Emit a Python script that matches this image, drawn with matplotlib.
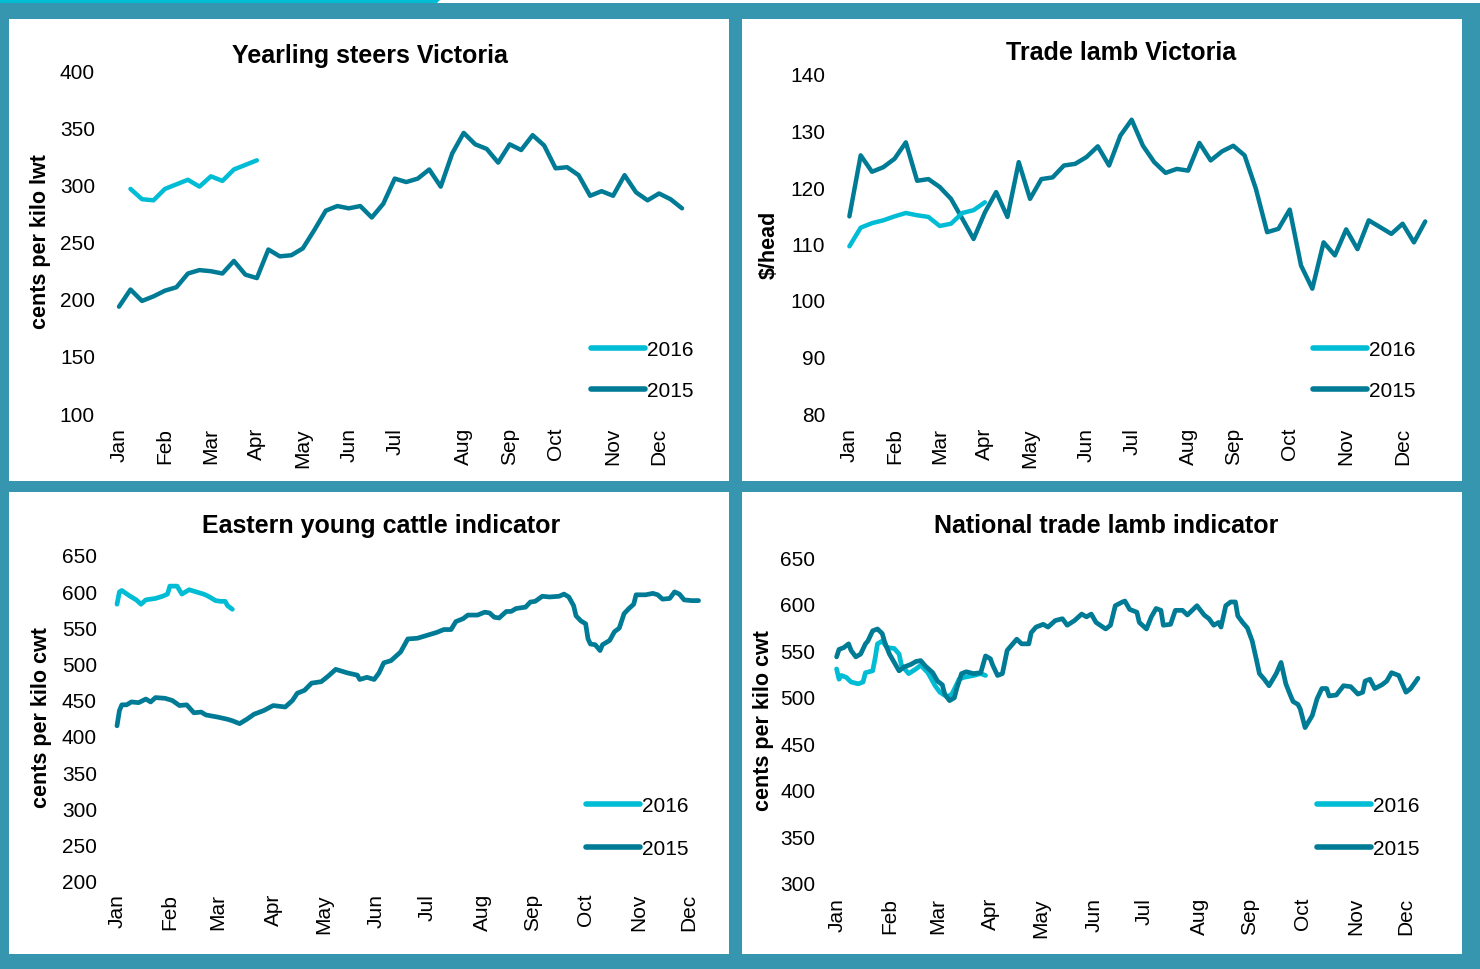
"""Four price panels (2015 vs 2016): steers, trade lamb, EYCI, national trade lamb."""

import matplotlib

matplotlib.use("Agg")
import matplotlib.pyplot as plt
from matplotlib.patches import Polygon, Rectangle

plt.rcParams["font.family"] = ["Liberation Sans", "DejaVu Sans"]

W, H = 1480, 970
BG = "#3796af"
C16 = "#00bcd4"
C15 = "#007b96"

MONTHS = ["Jan", "Feb", "Mar", "Apr", "May", "Jun",
          "Jul", "Aug", "Sep", "Oct", "Nov", "Dec"]

# --- Yearling steers Victoria (weekly, c/kg lwt) ---
steers_weeks_2015 = list(range(50))
steers_2015 = [193, 208, 198, 202, 207, 210, 222, 225, 224, 222,
               233, 221, 218, 243, 237, 238, 244, 260, 277, 281,
               279, 281, 271, 283, 305, 302, 305, 313, 298, 327,
               345, 335, 331, 319, 335, 330, 343, 334, 314, 315,
               308, 290, 294, 290, 308, 293, 286, 292, 287, 279]
steers_weeks_2016 = list(range(1, 13))
steers_2016 = [296, 287, 286, 296, 300, 304, 298, 307, 303, 313, 317, 321]
steers_ticks = [0, 4, 8, 12, 16, 20, 24, 30, 34, 38, 43, 47]
steers_yticks = [100, 150, 200, 250, 300, 350, 400]

# --- Trade lamb Victoria (weekly, $/head) ---
lamb_weeks_2015 = list(range(52))
lamb_2015 = [114.8, 125.6, 122.7, 123.5, 125.0, 127.9, 121.1, 121.4, 120.0, 117.9,
             114.4, 110.8, 115.5, 119.1, 114.7, 124.4, 117.9, 121.4, 121.7, 123.8,
             124.1, 125.3, 127.2, 123.8, 129.1, 131.9, 127.3, 124.4, 122.5, 123.2,
             122.9, 127.8, 124.7, 126.3, 127.3, 125.6, 119.7, 112.0, 112.6, 116.0,
             106.1, 102.0, 110.2, 107.9, 112.5, 109.0, 114.1, 112.9, 111.7, 113.5,
             110.2, 113.9]
lamb_weeks_2016 = list(range(13))
lamb_2016 = [109.5, 112.8, 113.6, 114.1, 114.8, 115.4, 115.0, 114.7, 113.1, 113.5,
             115.4, 115.9, 117.3]
lamb_ticks = [0, 4, 8, 12, 16, 21, 25, 30, 34, 39, 44, 49]
lamb_yticks = [80, 90, 100, 110, 120, 130, 140]

# --- Eastern young cattle indicator (daily, c/kg cwt) ---
eyci_days_2015 = [0, 1, 2, 4, 6, 9, 12, 14, 16, 20, 23, 26, 29, 32, 35, 37, 42, 46, 48,
                  51, 54, 57, 61, 65, 70, 73, 75, 78, 81, 85, 88, 91, 96, 100, 101,
                  104, 107, 109, 111, 114, 118, 121, 125, 129, 133, 136, 139, 141,
                  144, 146, 150, 153, 155, 157, 159, 162, 164, 166, 170, 172, 174,
                  177, 180, 184, 186, 188, 190, 191, 193, 195, 196, 197, 199, 201,
                  202, 205, 207, 209, 211, 213, 215, 216, 220, 223, 225, 227, 230,
                  232, 234, 236, 239, 242]
eyci_2015 = [414, 435, 443, 443, 447, 446, 451, 447, 453, 452, 449, 442, 443, 432, 433,
             429, 426, 423, 421, 417, 423, 430, 435, 442, 440, 449, 459, 463, 473, 475,
             483, 492, 487, 484, 478, 481, 478, 487, 501, 504, 516, 534, 535, 539, 543,
             547, 547, 558, 562, 567, 567, 571, 570, 564, 563, 572, 572, 576, 578, 585,
             586, 593, 592, 593, 596, 592, 580, 566, 559, 555, 534, 527, 526, 518, 526,
             532, 544, 549, 569, 576, 582, 595, 595, 597, 595, 589, 590, 599, 596, 588,
             587, 587]
eyci_days_2016 = [0, 1, 2, 5, 8, 10, 12, 16, 19, 21, 22, 25, 27, 30, 33, 36, 38, 41,
                  43, 45, 46, 48]
eyci_2016 = [582, 599, 601, 594, 588, 582, 588, 590, 593, 596, 607, 607, 596, 602,
             599, 596, 593, 587, 586, 586, 580, 575]
eyci_ticks = [0, 22, 42, 65, 86, 108, 129, 152, 173, 195, 217, 238]
eyci_yticks = [200, 250, 300, 350, 400, 450, 500, 550, 600, 650]

# --- National trade lamb indicator (daily, c/kg cwt) ---
ntli_days_2015 = [0, 1, 3, 5, 6, 8, 10, 12, 13, 15, 17, 19, 20, 22, 24, 26, 28, 31, 33,
                  35, 37, 40, 42, 44, 45, 47, 49, 50, 52, 54, 57, 60, 62, 64, 65, 67,
                  69, 71, 74, 75, 77, 80, 81, 83, 86, 88, 91, 94, 96, 99, 102, 104,
                  106, 108, 112, 114, 116, 119, 120, 122, 125, 126, 129, 131, 133,
                  135, 136, 139, 141, 144, 146, 148, 150, 153, 155, 157, 159, 160,
                  162, 164, 166, 167, 169, 171, 173, 175, 176, 178, 180, 183, 185,
                  187, 189, 190, 192, 193, 195, 198, 200, 202, 204, 205, 208, 211,
                  214, 217, 219, 220, 222, 224, 227, 229, 231, 234, 237, 239, 242]
ntli_2015 = [543, 551, 553, 557, 550, 543, 546, 557, 560, 571, 573, 568, 559, 546, 537,
             528, 532, 535, 538, 539, 533, 526, 517, 513, 503, 496, 499, 509, 525, 527,
             525, 526, 544, 541, 534, 523, 525, 550, 559, 562, 557, 557, 569, 575, 578,
             575, 582, 584, 577, 582, 589, 586, 589, 580, 573, 577, 598, 602, 603, 594,
             591, 580, 573, 586, 595, 593, 577, 578, 593, 593, 588, 593, 598, 588, 584,
             577, 580, 575, 598, 602, 602, 587, 580, 574, 560, 537, 525, 519, 512, 525,
             537, 514, 501, 495, 492, 487, 467, 480, 498, 509, 509, 501, 502, 512, 511,
             503, 505, 517, 519, 509, 513, 517, 526, 523, 505, 509, 520]
ntli_days_2016 = [0, 1, 2, 4, 6, 9, 11, 12, 15, 16, 17, 19, 21, 24, 26, 27, 30, 33, 35,
                  38, 41, 43, 46, 48, 51, 53, 57, 60, 62]
ntli_2016 = [530, 519, 523, 521, 516, 514, 516, 526, 528, 541, 557, 560, 553, 552, 546,
             534, 525, 530, 534, 526, 512, 505, 500, 503, 519, 521, 523, 525, 523]
ntli_ticks = [0, 22, 42, 64, 85, 107, 128, 151, 172, 194, 216, 237]
ntli_yticks = [300, 350, 400, 450, 500, 550, 600, 650]


def fig_rect(left, top, right, bottom):
    """Pixel box (from top-left) -> figure fraction [l, b, w, h]."""
    return [left / W, 1 - bottom / H, (right - left) / W, (bottom - top) / H]


def panel(fig, box, ax_box, xlim, ylim, yticks, xticks, data, title, title_xy,
          ylabel, ylabel_xy, legend_xy, ypad, xpad, lw, legsp, top16=False):
    # white card behind the chart
    card = fig.add_axes(fig_rect(*box))
    card.set_facecolor("white")
    card.set_xticks([])
    card.set_yticks([])
    for s in card.spines.values():
        s.set_visible(False)
    card.set_zorder(0)

    ax = fig.add_axes(fig_rect(*ax_box))
    ax.set_zorder(1)
    ax.patch.set_alpha(0)
    (x15, y15), (x16, y16) = data
    kw = dict(lw=lw, solid_joinstyle="round", solid_capstyle="round")
    l15, = ax.plot(x15, y15, color=C15, label="2015", zorder=3, **kw)
    l16, = ax.plot(x16, y16, color=C16, label="2016", zorder=4 if top16 else 2, **kw)
    ax.set_xlim(*xlim)
    ax.set_ylim(*ylim)
    ax.set_yticks(yticks)
    ax.set_xticks(xticks)
    ax.set_xticklabels(MONTHS, rotation=90, va="top", ha="center")
    ax.tick_params(axis="both", length=0, labelsize=15, colors="black")
    ax.tick_params(axis="y", pad=ypad)
    ax.tick_params(axis="x", pad=xpad)
    for s in ax.spines.values():
        s.set_visible(False)
    fig.text(title_xy[0] / W, 1 - title_xy[1] / H, title, ha="center", va="center",
             fontsize=18, fontweight="bold", zorder=5)
    fig.text(ylabel_xy[0] / W, 1 - ylabel_xy[1] / H, ylabel, ha="center", va="center",
             rotation=90, fontsize=15.5, fontweight="bold", zorder=5)
    leg = ax.legend([l16, l15], ["2016", "2015"], loc="upper left",
                    bbox_to_anchor=(legend_xy[0] / W, 1 - legend_xy[1] / H),
                    bbox_transform=fig.transFigure, frameon=False, fontsize=15,
                    handlelength=2.6, handletextpad=0.08, labelspacing=legsp,
                    borderpad=0, borderaxespad=0)
    for h in leg.get_lines():
        h.set_linewidth(4.0)
        h.set_solid_capstyle("round")
    return ax


def main() -> None:
    fig = plt.figure(figsize=(W / 100, H / 100), dpi=100, facecolor=BG)

    # thin strip along the top edge
    fig.patches.append(Rectangle((0, 1 - 4 / H), 1, 4 / H, transform=fig.transFigure,
                                 facecolor="white", edgecolor="none", zorder=0))
    fig.patches.append(Polygon([(0, 1), (441 / W, 1), (437 / W, 1 - 4 / H), (0, 1 - 4 / H)],
                               closed=True, transform=fig.transFigure,
                               facecolor=C16, edgecolor="none", zorder=0))

    panel(fig, (9, 20, 729, 482), (107.5, 71, 705, 414), (-1, 51), (100, 400),
          steers_yticks, steers_ticks,
          ((steers_weeks_2015, steers_2015), (steers_weeks_2016, steers_2016)),
          "Yearling steers Victoria", (370, 56), "cents per kilo lwt", (41, 242),
          (591, 341), 9, 10, 3.2, 1.05)

    panel(fig, (742, 20, 1462, 482), (838.1, 75, 1447.8, 414), (-1, 53), (80, 140),
          lamb_yticks, lamb_ticks,
          ((lamb_weeks_2015, lamb_2015), (lamb_weeks_2016, lamb_2016)),
          "Trade lamb Victoria", (1121, 53), "$/head", (769, 245),
          (1313, 341), 9.4, 10, 3.2, 1.05, top16=True)

    panel(fig, (9, 493, 729, 955), (107.4, 556, 717.8, 881.7), (-4, 250), (200, 650),
          eyci_yticks, eyci_ticks,
          ((eyci_days_2015, eyci_2015), (eyci_days_2016, eyci_2016)),
          "Eastern young cattle indicator", (381, 526), "cents per kilo cwt", (42, 718),
          (586, 797), 7.5, 8.8, 3.4, 1.15)

    panel(fig, (742, 493, 1462, 955), (827, 558.3, 1437.2, 884), (-4, 250), (300, 650),
          ntli_yticks, ntli_ticks,
          ((ntli_days_2015, ntli_2015), (ntli_days_2016, ntli_2016)),
          "National trade lamb indicator", (1106, 526), "cents per kilo cwt", (763, 721),
          (1317, 797), 8.3, 10, 3.4, 1.15)

    fig.savefig("out.png", dpi=100, facecolor=BG)
    plt.close(fig)


if __name__ == "__main__":
    main()
